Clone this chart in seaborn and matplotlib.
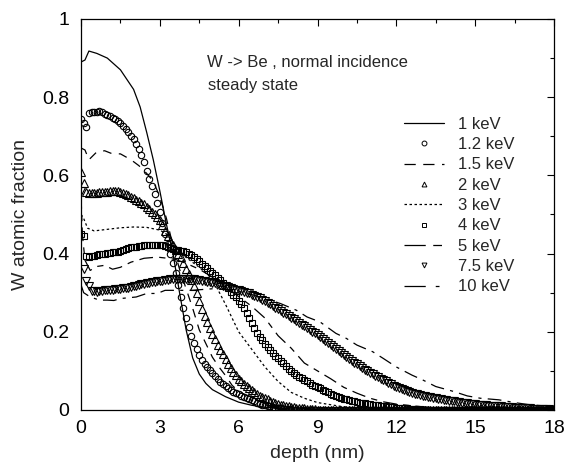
import numpy as np
import matplotlib
matplotlib.use("Agg")
import matplotlib.pyplot as plt
from matplotlib.lines import Line2D
from matplotlib.legend_handler import HandlerLine2D
import seaborn as sns

sns.set_theme(style="white")
plt.rcParams['font.family'] = ['Liberation Sans', 'DejaVu Sans']

# ---------------- data ----------------
grid = np.round(np.arange(0, 18.001, 0.1), 1)  # sampling grid of the marker series (nm)

w_1keV_depth = [0, 0.15, 0.3, 0.6, 1.0, 1.5, 2.0, 2.25, 2.5, 2.75, 3.0, 3.25, 3.5, 3.75,
                4.0, 4.25, 4.5, 4.75, 5.0, 5.5, 6.0, 6.5, 7.0, 8.0, 9.0, 10, 12, 15, 18]
w_1keV = [0.89, 0.895, 0.918, 0.912, 0.90, 0.87, 0.82, 0.775, 0.71, 0.64, 0.56, 0.475, 0.40, 0.30,
          0.205, 0.133, 0.092, 0.068, 0.052, 0.034, 0.02, 0.012, 0.007, 0.003, 0.001, 0, 0, 0, 0]

w_1p2keV = [
    0.745, 0.735, 0.725, 0.760, 0.762, 0.763, 0.763, 0.764, 0.762, 0.758,
    0.755, 0.751, 0.747, 0.743, 0.738, 0.733, 0.727, 0.719, 0.710, 0.701,
    0.692, 0.680, 0.667, 0.651, 0.633, 0.612, 0.590, 0.572, 0.553, 0.530,
    0.506, 0.478, 0.450, 0.425, 0.400, 0.376, 0.350, 0.320, 0.290, 0.262,
    0.235, 0.211, 0.190, 0.171, 0.155, 0.141, 0.128, 0.118, 0.110, 0.102,
    0.095, 0.086, 0.078, 0.072, 0.066, 0.061, 0.056, 0.051, 0.047, 0.043,
    0.040, 0.037, 0.034, 0.031, 0.028, 0.025, 0.022, 0.019, 0.016, 0.014,
    0.012, 0.010, 0.009, 0.007, 0.006, 0.005, 0.004, 0.003, 0.003, 0.002,
    0.002, 0.001, 0.001, 0.001, 0.001, 0.001, 0.001, 0.001, 0, 0,
    0, 0, 0, 0, 0, 0, 0, 0, 0, 0,
    0, 0, 0, 0, 0, 0, 0, 0, 0, 0,
    0, 0, 0, 0, 0, 0, 0, 0, 0, 0,
    0, 0, 0, 0, 0, 0, 0, 0, 0, 0,
    0, 0, 0, 0, 0, 0, 0, 0, 0, 0,
    0, 0, 0, 0, 0, 0, 0, 0, 0, 0,
    0, 0, 0, 0, 0, 0, 0, 0, 0, 0,
    0, 0, 0, 0, 0, 0, 0, 0, 0, 0,
    0, 0, 0, 0, 0, 0, 0, 0, 0, 0,
    0]

w_1p5keV_depth = [0, 0.15, 0.3, 0.6, 0.9, 1.2, 1.5, 1.9, 2.2, 2.5, 2.75, 3.0, 3.25, 3.5, 3.75,
                  4.0, 4.25, 4.5, 4.75, 5.0, 5.25, 5.5, 5.75, 6.0, 6.5, 7.0, 7.5, 8, 9, 10, 12, 15, 18]
w_1p5keV = [0.67, 0.665, 0.64, 0.66, 0.663, 0.655, 0.655, 0.64, 0.625, 0.605, 0.585, 0.545, 0.49, 0.42, 0.36,
            0.31, 0.26, 0.205, 0.17, 0.135, 0.11, 0.088, 0.063, 0.048, 0.03, 0.018, 0.01, 0.006, 0.002, 0, 0, 0, 0]

w_2keV = [
    0.608, 0.580, 0.557, 0.555, 0.555, 0.556, 0.556, 0.557, 0.557, 0.558,
    0.558, 0.559, 0.559, 0.559, 0.559, 0.558, 0.556, 0.553, 0.549, 0.545,
    0.541, 0.538, 0.534, 0.530, 0.526, 0.520, 0.514, 0.507, 0.500, 0.493,
    0.485, 0.472, 0.458, 0.445, 0.432, 0.421, 0.410, 0.400, 0.390, 0.376,
    0.360, 0.347, 0.333, 0.316, 0.298, 0.278, 0.258, 0.241, 0.225, 0.210,
    0.195, 0.181, 0.167, 0.154, 0.142, 0.130, 0.118, 0.108, 0.098, 0.089,
    0.080, 0.073, 0.067, 0.061, 0.056, 0.051, 0.046, 0.041, 0.037, 0.033,
    0.030, 0.027, 0.024, 0.021, 0.019, 0.016, 0.014, 0.012, 0.011, 0.009,
    0.008, 0.007, 0.006, 0.005, 0.004, 0.004, 0.003, 0.002, 0.002, 0.002,
    0.001, 0.001, 0.001, 0.001, 0.001, 0, 0, 0, 0, 0,
    0, 0, 0, 0, 0, 0, 0, 0, 0, 0,
    0, 0, 0, 0, 0, 0, 0, 0, 0, 0,
    0, 0, 0, 0, 0, 0, 0, 0, 0, 0,
    0, 0, 0, 0, 0, 0, 0, 0, 0, 0,
    0, 0, 0, 0, 0, 0, 0, 0, 0, 0,
    0, 0, 0, 0, 0, 0, 0, 0, 0, 0,
    0, 0, 0, 0, 0, 0, 0, 0, 0, 0,
    0, 0, 0, 0, 0, 0, 0, 0, 0, 0,
    0]

w_3keV_depth = [0, 0.1, 0.25, 0.5, 1.0, 1.5, 2.0, 2.5, 3.0, 3.25, 3.5, 3.75, 4.0, 4.5, 5.0,
                5.5, 6.0, 6.5, 7.0, 7.5, 8.0, 8.5, 9.0, 10, 11, 12, 14, 18]
w_3keV = [0.50, 0.49, 0.465, 0.458, 0.462, 0.466, 0.468, 0.467, 0.46, 0.45, 0.428, 0.408, 0.39, 0.365, 0.335,
          0.27, 0.20, 0.155, 0.11, 0.073, 0.045, 0.03, 0.019, 0.008, 0.003, 0.001, 0, 0]

w_4keV = [
    0.450, 0.445, 0.395, 0.392, 0.393, 0.395, 0.397, 0.398, 0.400, 0.400,
    0.401, 0.402, 0.403, 0.404, 0.405, 0.407, 0.410, 0.412, 0.414, 0.416,
    0.417, 0.418, 0.419, 0.420, 0.421, 0.421, 0.421, 0.422, 0.421, 0.421,
    0.421, 0.421, 0.420, 0.418, 0.415, 0.412, 0.410, 0.408, 0.407, 0.406,
    0.404, 0.400, 0.396, 0.391, 0.385, 0.380, 0.374, 0.368, 0.362, 0.356,
    0.350, 0.344, 0.338, 0.332, 0.325, 0.318, 0.312, 0.303, 0.295, 0.288,
    0.280, 0.270, 0.260, 0.248, 0.235, 0.222, 0.210, 0.198, 0.187, 0.178,
    0.170, 0.161, 0.153, 0.146, 0.139, 0.132, 0.126, 0.119, 0.113, 0.106,
    0.100, 0.095, 0.090, 0.085, 0.081, 0.077, 0.073, 0.069, 0.065, 0.062,
    0.059, 0.055, 0.052, 0.048, 0.045, 0.042, 0.039, 0.036, 0.033, 0.031,
    0.029, 0.027, 0.025, 0.023, 0.022, 0.020, 0.019, 0.018, 0.017, 0.016,
    0.015, 0.014, 0.013, 0.012, 0.011, 0.010, 0.009, 0.008, 0.008, 0.007,
    0.006, 0.006, 0.005, 0.004, 0.004, 0.003, 0.003, 0.002, 0.002, 0.002,
    0.001, 0.001, 0.001, 0.001, 0.001, 0, 0, 0, 0, 0,
    0, 0, 0, 0, 0, 0, 0, 0, 0, 0,
    0, 0, 0, 0, 0, 0, 0, 0, 0, 0,
    0, 0, 0, 0, 0, 0, 0, 0, 0, 0,
    0, 0, 0, 0, 0, 0, 0, 0, 0, 0,
    0]

w_5keV_depth = [0, 0.05, 0.15, 0.35, 0.6, 0.9, 1.2, 1.5, 1.9, 2.4, 2.9, 3.3, 3.6, 4.0, 4.5, 5.0,
                5.5, 6.0, 6.5, 7.0, 7.5, 8.0, 8.5, 9.0, 9.5, 10, 10.5, 11, 11.5, 12, 13, 14, 15, 18]
w_5keV = [0.55, 0.45, 0.383, 0.357, 0.367, 0.37, 0.36, 0.365, 0.378, 0.388, 0.391, 0.388, 0.385, 0.375, 0.36, 0.34,
          0.315, 0.29, 0.265, 0.235, 0.19, 0.158, 0.12, 0.10, 0.08, 0.058, 0.043, 0.03, 0.021, 0.015, 0.008, 0.004, 0.002, 0]

w_7p5keV = [
    0.560, 0.360, 0.330, 0.318, 0.305, 0.304, 0.303, 0.304, 0.305, 0.306,
    0.307, 0.307, 0.308, 0.309, 0.310, 0.310, 0.311, 0.312, 0.313, 0.314,
    0.316, 0.318, 0.320, 0.322, 0.323, 0.325, 0.326, 0.327, 0.328, 0.329,
    0.330, 0.331, 0.332, 0.333, 0.334, 0.335, 0.335, 0.336, 0.336, 0.336,
    0.336, 0.336, 0.335, 0.334, 0.333, 0.332, 0.331, 0.330, 0.328, 0.327,
    0.325, 0.324, 0.322, 0.320, 0.318, 0.316, 0.314, 0.312, 0.310, 0.308,
    0.306, 0.304, 0.302, 0.300, 0.298, 0.295, 0.292, 0.289, 0.286, 0.282,
    0.278, 0.274, 0.270, 0.266, 0.262, 0.257, 0.252, 0.249, 0.245, 0.240,
    0.236, 0.232, 0.227, 0.223, 0.218, 0.214, 0.209, 0.205, 0.200, 0.196,
    0.192, 0.187, 0.182, 0.177, 0.172, 0.167, 0.162, 0.157, 0.151, 0.146,
    0.140, 0.135, 0.130, 0.126, 0.121, 0.117, 0.112, 0.108, 0.103, 0.099,
    0.095, 0.092, 0.088, 0.084, 0.080, 0.077, 0.073, 0.070, 0.066, 0.062,
    0.059, 0.056, 0.053, 0.050, 0.048, 0.046, 0.044, 0.042, 0.040, 0.038,
    0.037, 0.035, 0.034, 0.032, 0.031, 0.030, 0.028, 0.027, 0.026, 0.025,
    0.024, 0.023, 0.022, 0.021, 0.020, 0.019, 0.018, 0.017, 0.016, 0.016,
    0.015, 0.014, 0.013, 0.013, 0.012, 0.011, 0.011, 0.010, 0.010, 0.009,
    0.009, 0.008, 0.008, 0.007, 0.007, 0.006, 0.006, 0.005, 0.005, 0.004,
    0.004, 0.004, 0.003, 0.003, 0.003, 0.002, 0.002, 0.002, 0.002, 0.001,
    0.001]

w_10keV_depth = [0, 0.1, 0.35, 0.7, 1.0, 1.25, 1.5, 2.1, 2.5, 2.9, 3.2, 3.8, 4.2, 5.0, 5.5, 6.0, 6.5,
                 7.0, 7.6, 8.2, 8.6, 9.1, 9.7, 10.1, 10.5, 11.1, 11.5, 12.0, 12.6, 13.0, 13.5, 14.2,
                 14.7, 15.2, 15.9, 16.5, 17, 18]
w_10keV = [0.32, 0.30, 0.289, 0.281, 0.281, 0.28, 0.285, 0.289, 0.298, 0.298, 0.306, 0.306, 0.306, 0.31, 0.308,
           0.303, 0.295, 0.285, 0.272, 0.255, 0.238, 0.225, 0.196, 0.183, 0.166, 0.149, 0.132, 0.11, 0.089,
           0.077, 0.06, 0.047, 0.036, 0.03, 0.026, 0.019, 0.014, 0.008]

labels = ["1 keV", "1.2 keV", "1.5 keV", "2 keV", "3 keV", "4 keV", "5 keV", "7.5 keV", "10 keV"]
x_ticks = [0, 3, 6, 9, 12, 15, 18]
y_ticks = [0, 0.2, 0.4, 0.6, 0.8, 1.0]
y_ticklabels = ["0", "0.2", "0.4", "0.6", "0.8", "1"]

# ---------------- styles ----------------
lw = 0.9
line_series = [
    (w_1keV_depth, w_1keV, dict(linestyle='-')),
    (w_1p5keV_depth, w_1p5keV, dict(linestyle=(0, (7, 6)))),
    (w_3keV_depth, w_3keV, dict(linestyle=(0, (2, 2)))),
    (w_5keV_depth, w_5keV, dict(linestyle=(0, (11, 5, 5, 5)))),
    (w_10keV_depth, w_10keV, dict(linestyle=(0, (11, 5, 2.5, 5)))),
]
marker_series = [
    (w_1p2keV, 'o', 4.6),
    (w_2keV, '^', 5.2),
    (w_4keV, 's', 4.4),
    (w_7p5keV, 'v', 5.2),
]

fig = plt.figure(figsize=(5.65, 4.63), dpi=100)
ax = fig.add_axes([0.1434, 0.1145, 0.8371, 0.8445])

for xd, yd, st in line_series:
    sns.lineplot(x=xd, y=yd, ax=ax, color='black', linewidth=lw, legend=False,
                 sort=False, estimator=None, **st)

for yd, mk, ms in marker_series:
    sns.lineplot(x=grid, y=yd, ax=ax, color='black', linestyle='none', marker=mk,
                 markersize=ms, markerfacecolor='none', markeredgecolor='black',
                 markeredgewidth=0.8, legend=False, sort=False, estimator=None)

ax.set_xlim(0, 18)
ax.set_ylim(0, 1)
ax.set_xticks(x_ticks)
ax.set_xticks(np.arange(1.5, 18, 3), minor=True)
ax.set_yticks(y_ticks)
ax.set_yticklabels(y_ticklabels)
ax.set_yticks(np.arange(0.1, 1.0, 0.2), minor=True)
ax.tick_params(which='both', direction='in', top=True, right=True, colors='black',
               labelsize=14, width=0.8)
ax.tick_params(which='major', length=5)
ax.tick_params(which='minor', length=3)
ax.tick_params(axis='x', which='major', pad=7)
ax.tick_params(axis='y', which='major', pad=8.5)
for s in ax.spines.values():
    s.set_color('black')
    s.set_linewidth(0.9)

ax.set_xlabel("depth (nm)", fontsize=14, labelpad=6)
ax.set_ylabel("W atomic fraction", fontsize=14, labelpad=9)

ax.text(4.8, 0.888, "W -> Be , normal incidence", fontsize=12, va='center', ha='left')
ax.text(4.83, 0.829, "steady state", fontsize=12, va='center', ha='left')


class RightMarker(HandlerLine2D):
    def get_xdata(self, legend, xdescent, ydescent, width, height, fontsize):
        xd, xm = super().get_xdata(legend, xdescent, ydescent, width, height, fontsize)
        return xd, [-xdescent + width - 2]


handles = [
    Line2D([], [], color='black', lw=lw, linestyle='-'),
    Line2D([], [], color='black', lw=0, marker='o', ms=3.5, mfc='none', mew=0.7),
    Line2D([], [], color='black', lw=lw, linestyle=(0, (9, 6))),
    Line2D([], [], color='black', lw=0, marker='^', ms=3.5, mfc='none', mew=0.7),
    Line2D([], [], color='black', lw=lw, linestyle=(0, (2, 2))),
    Line2D([], [], color='black', lw=0, marker='s', ms=3.5, mfc='none', mew=0.7),
    Line2D([], [], color='black', lw=lw, linestyle=(0, (17, 6, 7, 10))),
    Line2D([], [], color='black', lw=0, marker='v', ms=3.5, mfc='none', mew=0.7),
    Line2D([], [], color='black', lw=lw, linestyle=(0, (17, 8, 3, 10))),
]
leg = ax.legend(handles, labels, loc='upper left', bbox_to_anchor=(0.683, 0.75),
                frameon=False, fontsize=12, handlelength=2.4, handletextpad=0.85,
                labelspacing=0.32, borderpad=0, borderaxespad=0,
                handler_map={h: RightMarker() for h in handles})

fig.savefig("out.png", dpi=100)
